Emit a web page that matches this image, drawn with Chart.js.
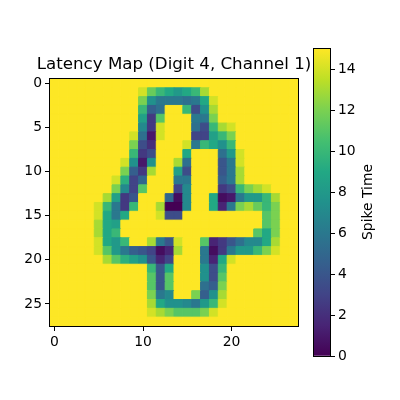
<!DOCTYPE html>
<html>
<head>
<meta charset="utf-8">
<style>
html,body{margin:0;padding:0;background:#fff;width:400px;height:400px;overflow:hidden}
canvas{position:absolute;top:0}
#map{left:0}
#bar{left:300px}
</style>
<script src="https://cdn.jsdelivr.net/npm/chart.js@4"></script>
</head>
<body>
<canvas id="map" width="348" height="400"></canvas>
<canvas id="bar" width="100" height="400"></canvas>
<script>
const chartTitle = "Latency Map (Digit 4, Channel 1)";
const colorbarLabel = "Spike Time";
const xTicks = [0, 10, 20];
const yTicks = [0, 5, 10, 15, 20, 25];
const colorbarTicks = [0, 2, 4, 6, 8, 10, 12, 14];
const colorbarRange = [0, 15];
const viridis = ["#440154","#482475","#414487","#355f8d","#2a788e","#21918c","#22a884","#44bf70","#7ad151","#bddf26","#fde725"];
const spikeTimes = [
[15,15,15,15,15,15,15,15,15,15,15,15,15,15,15,15,15,15,15,15,15,15,15,15,15,15,15,15],
[15,15,15,15,15,15,15,15,15,15,14,11.5,10,9,8,9,10,13,15,15,15,15,15,15,15,15,15,15],
[15,15,15,15,15,15,15,15,15,15,12,7.5,6,6,6,5.5,6,9,14,15,15,15,15,15,15,15,15,15],
[15,15,15,15,15,15,15,15,15,15,10,4.5,5.5,15,15,10,3.5,7.5,13,15,15,15,15,15,15,15,15,15],
[15,15,15,15,15,15,15,15,15,15,8.5,2.5,11,15,15,15,6,6,12,15,15,15,15,15,15,15,15,15],
[15,15,15,15,15,15,15,15,15,15,7,2.5,14,15,15,15,5.5,3.5,10,13,14,15,15,15,15,15,15,15],
[15,15,15,15,15,15,15,15,15,14,5.5,1,14,15,15,15,3,3,8.5,10,12,15,15,15,15,15,15,15],
[15,15,15,15,15,15,15,15,15,12,3.5,2,15,15,15,14,6,10,9,7.5,10,15,15,15,15,15,15,15],
[15,15,15,15,15,15,15,15,15,10,2.5,3.5,15,15,15,9,15,15,15,5.5,8,14,15,15,15,15,15,15],
[15,15,15,15,15,15,15,15,14,7.5,1,7.5,15,15,13,5.5,15,15,15,4,6,14,15,15,15,15,15,15],
[15,15,15,15,15,15,15,15,12,4.5,2.5,13,15,15,8.5,3.5,15,15,15,4,6,13,15,15,15,15,15,15],
[15,15,15,15,15,15,15,14,9.5,3,5,15,15,15,6,6,15,15,15,4.5,6,13,15,15,15,15,15,15],
[15,15,15,15,15,15,15,12,7,3,11,15,15,15,3,7,15,15,15,2.5,3.5,10,12,13,14,15,15,15],
[15,15,15,15,15,15,13,8.5,2.5,4,15,15,15,5,0.5,7,15,15,9,0.5,1,6,8,8,10,13,15,15],
[15,15,15,15,15,14,10,6,2.5,10,15,15,13,0,0,7,15,15,9,1.5,6,12,13,11.5,10,12,15,15],
[15,15,15,15,15,14,9,6,9,15,15,15,14,3.5,3.5,15,15,15,15,15,15,15,15,15,11,12,15,15],
[15,15,15,15,15,13,9,8.5,15,15,15,15,15,15,15,15,15,15,15,15,15,15,15,15,11,12,15,15],
[15,15,15,15,15,13,9,10,15,15,15,15,15,15,15,15,15,15,15,15,15,15,15,11,9,12,15,15],
[15,15,15,15,15,14,9,8,10,15,15,13,6,4,14,15,15,11,1.5,2.5,4,5.5,7,7,9,13,15,15],
[15,15,15,15,15,14,11,8,6,4.5,4,3,0.5,1.5,13,15,15,6,0.5,2.5,6,8,8,10,12,14,15,15],
[15,15,15,15,15,15,13,11,9.5,8.5,7.5,4,1.5,3,15,15,15,6,1.5,9,14,15,15,15,15,15,15,15],
[15,15,15,15,15,15,15,15,15,15,15,10,4,9,15,15,15,7.5,3.5,10,15,15,15,15,15,15,15,15],
[15,15,15,15,15,15,15,15,15,15,15,11,4,11,15,15,15,7.5,3.5,11,15,15,15,15,15,15,15,15],
[15,15,15,15,15,15,15,15,15,15,15,11,4,11,15,15,15,5.5,4.5,12,15,15,15,15,15,15,15,15],
[15,15,15,15,15,15,15,15,15,15,15,12,6,7,15,15,12,4.5,7.5,13,15,15,15,15,15,15,15,15],
[15,15,15,15,15,15,15,15,15,15,15,13,9,7.5,7.5,7,6,8,10,14,15,15,15,15,15,15,15,15],
[15,15,15,15,15,15,15,15,15,15,15,14,13,12,11,11,11,12,14,15,15,15,15,15,15,15,15,15],
[15,15,15,15,15,15,15,15,15,15,15,15,15,15,15,15,15,15,15,15,15,15,15,15,15,15,15,15]
];

const FONT = "'DejaVu Sans'";
function hexRgb(h){return [1,3,5].map(i=>parseInt(h.substr(i,2),16));}
function colorFor(v){
  const t = Math.max(0,Math.min(1,(v-colorbarRange[0])/(colorbarRange[1]-colorbarRange[0])))*(viridis.length-1);
  const i = Math.min(viridis.length-2,Math.floor(t)), f=t-i;
  const a=hexRgb(viridis[i]), b=hexRgb(viridis[i+1]);
  return "rgb("+a.map((c,k)=>Math.round(c+(b[k]-c)*f)).join(",")+")";
}
const points=[];
spikeTimes.forEach((row,y)=>row.forEach((v,x)=>points.push({x,y,v})));

const frame = {
  id:"frame",
  afterDatasetsDraw(c){
    const a=c.chartArea, g=c.ctx;
    g.save();g.strokeStyle="#000";g.lineWidth=1;
    g.strokeRect(Math.round(a.left)-0.5,Math.round(a.top)-0.5,Math.round(a.right-a.left)+1,Math.round(a.bottom-a.top)+1);
    g.restore();
  }
};
const axisCommon = {
  grid:{drawOnChartArea:false,drawTicks:true,tickLength:5,tickColor:"#000",tickWidth:1},
  border:{display:false},
  ticks:{color:"#000",font:{family:FONT,size:13.9},padding:3,maxRotation:0,autoSkip:false}
};
function cellRadius(ctx){const s=ctx.chart.scales.x;return Math.abs(s.getPixelForValue(1)-s.getPixelForValue(0))/Math.SQRT2;}
new Chart(document.getElementById("map"),{
  type:"scatter",
  data:{datasets:[{
    data:points,
    pointStyle:"rect",
    pointRadius:cellRadius,
    pointHoverRadius:cellRadius,
    pointBackgroundColor(ctx){return ctx.raw?colorFor(ctx.raw.v):"#000";},
    pointBorderColor(ctx){return ctx.raw?colorFor(ctx.raw.v):"#000";},
    pointBorderWidth:1
  }]},
  options:{
    responsive:false,animation:false,devicePixelRatio:1,
    layout:{padding:0},
    plugins:{
      legend:{display:false},tooltip:{enabled:false},
      title:{display:true,text:chartTitle,color:"#000",
        font:{family:FONT,size:16.67,weight:"normal"},padding:{top:54.5,bottom:4.5}}
    },
    scales:{
      x:{...axisCommon,type:"linear",min:-0.5,max:27.5,
        afterBuildTicks(s){s.ticks=xTicks.map(value=>({value}));},
        afterFit(s){s.height=74;}},
      y:{...axisCommon,type:"linear",reverse:true,min:-0.5,max:27.5,
        afterBuildTicks(s){s.ticks=yTicks.map(value=>({value}));},
        afterFit(s){s.width=50;}},
      spacer:{type:"linear",position:"right",
        grid:{display:false},border:{display:false},ticks:{display:false},
        afterFit(s){s.width=50;}}
    }
  },
  plugins:[frame]
});

const barLabel = {
  id:"barLabel",
  afterDraw(c){
    const g=c.ctx;
    g.save();g.translate(68,202);g.rotate(-Math.PI/2);
    g.font="13.9px "+FONT;g.fillStyle="#000";g.textAlign="center";g.textBaseline="middle";
    g.fillText(colorbarLabel,0,0);g.restore();
  }
};
new Chart(document.getElementById("bar"),{
  type:"bar",
  data:{labels:[colorbarLabel],datasets:[{
    data:[colorbarRange],
    barPercentage:1,categoryPercentage:1,borderWidth:0,
    backgroundColor(ctx){
      const y=ctx.chart.scales.y;
      if(!y||!ctx.chart.chartArea) return viridis[5];
      const gr=ctx.chart.ctx.createLinearGradient(0,y.getPixelForValue(colorbarRange[0]),0,y.getPixelForValue(colorbarRange[1]));
      viridis.forEach((col,i)=>gr.addColorStop(i/(viridis.length-1),col));
      return gr;
    }
  }]},
  options:{
    responsive:false,animation:false,devicePixelRatio:1,
    layout:{padding:{left:14,right:14,top:49,bottom:44}},
    plugins:{legend:{display:false},tooltip:{enabled:false},title:{display:false}},
    scales:{
      x:{display:false},
      y:{...axisCommon,position:"right",min:colorbarRange[0],max:colorbarRange[1],
        afterBuildTicks(s){s.ticks=colorbarTicks.map(value=>({value}));},
        afterFit(s){s.width=56;}}
    }
  },
  plugins:[frame,barLabel]
});
</script>
</body>
</html>
